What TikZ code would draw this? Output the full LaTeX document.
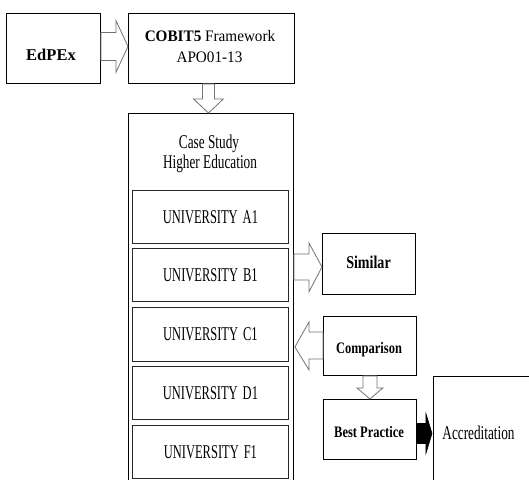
\documentclass[tikz,border=0pt]{standalone}
\usepackage{fontspec}
\setmainfont{Liberation Serif}
\newfontfamily\fN[FakeStretch=0.95]{Liberation Serif}
\newfontfamily\fC[FakeStretch=0.68]{Liberation Serif}
\newfontfamily\fU[FakeStretch=0.64]{Liberation Serif}
\newfontfamily\fB[FakeStretch=0.78]{Liberation Serif}
\usetikzlibrary{calc}
\begin{document}
\begin{tikzpicture}[x=1pt,y=-1pt,
  box/.style={draw=black, line width=0.9pt, fill=white, inner sep=0pt, anchor=north west},
  unibox/.style={box, draw=black!85, minimum width=156pt, minimum height=53pt,
    font=\fU\fontsize{19.5}{22}\selectfont},
  lbl/.style={anchor=base, inner sep=0pt},
  blockarrow/.style={draw=black!55, line width=0.8pt, fill=white, line join=miter},
  solidarrow/.style={draw=black, line width=0.6pt, fill=black, line join=miter}]
\useasboundingbox (0,0) rectangle (529,479);
\fill[white] (0,0) rectangle (529,479);
% boxes
\node[box, minimum width=94pt, minimum height=70pt] (edpex) at (6,13) {};
\node[box, minimum width=166pt, minimum height=70pt] (cobit) at (128,13) {};
\node[box, minimum width=165pt, minimum height=380pt] (case) at (128,113) {};
\node[unibox] (ua) at (132,190) {UNIVERSITY\hspace{5pt}A1};
\node[unibox] (ub) at (132,248) {UNIVERSITY\hspace{5pt}B1};
\node[unibox, minimum height=54pt] (uc) at (132,307) {UNIVERSITY\hspace{5pt}C1};
\node[unibox] (ud) at (132,366) {UNIVERSITY\hspace{5pt}D1};
\node[unibox] (uf) at (132,425) {UNIVERSITY\hspace{5pt}F1};
\node[box, minimum width=93pt, minimum height=61pt] (similar) at (322,233) {};
\node[box, minimum width=93pt, minimum height=59pt] (comp) at (323,316) {};
\node[box, minimum width=93pt, minimum height=60pt] (best) at (323,399) {};
\coordinate (accbl) at (433,485);
\coordinate (acctl) at (433,376);
\coordinate (acctr) at (535,376);
\draw[line width=0.9pt] (accbl) -- (acctl) -- (acctr);
% texts
\node[lbl, font=\bfseries\fontsize{16.5}{19}\selectfont] (edpext) at (51,60) {EdPEx};
\node[lbl, font=\fN\fontsize{16}{19}\selectfont] (cobitt1) at (210,41) {\textbf{COBIT5} Framework};
\node[lbl, font=\fN\fontsize{16}{19}\selectfont] (cobitt2) at (209.5,62) {APO01-13};
\node[lbl, font=\fC\fontsize{19.5}{22}\selectfont] (caset1) at (209,148) {Case Study};
\node[lbl, font=\fC\fontsize{19.5}{22}\selectfont] (caset2) at (210,168) {Higher Education};
\node[lbl, font=\fB\bfseries\fontsize{18}{21}\selectfont] (similart) at (368.5,268) {Similar};
\node[lbl, font=\fB\bfseries\fontsize{16}{19}\selectfont] (compt) at (369,353) {Comparison};
\node[lbl, font=\fB\bfseries\fontsize{16}{19}\selectfont] (bestt) at (369,437) {Best Practice};
\node[lbl, font=\fC\fontsize{19.5}{22}\selectfont] (acct) at (478.5,439) {Accreditation};
% block arrows
\draw[blockarrow] ($(edpex.east)+(0,-16)$) -- ++(15,0) -- ++(0,-12) -- ($(cobit.west)+(0,-2)$)
   -- ($(edpex.east)+(15,24)$) -- ++(0,-12) -- ($(edpex.east)+(0,12)$) -- cycle;
\draw[blockarrow] ($(cobit.south)+(-9,0)$) -- ++(0,15) -- ++(-9,0) -- ($(case.north)+(-2.5,0)$)
   -- ($(cobit.south)+(12,15)$) -- ++(-9,0) -- ($(cobit.south)+(3,0)$) -- cycle;
\draw[blockarrow] ($(case.east |- similar.west)+(0,-10)$) -- ++(15,0) -- ++(0,-11) -- ($(similar.west)+(0,3)$)
   -- ($(case.east |- similar.west)+(15,28)$) -- ++(0,-12) -- ($(case.east |- similar.west)+(0,16)$) -- cycle;
\draw[blockarrow] ($(comp.west)+(0,-14)$) -- ++(-14,0) -- ++(0,-10) -- ($(case.east |- comp.west)+(1,1)$)
   -- ($(comp.west)+(-14,24)$) -- ++(0,-11) -- ($(comp.west)+(0,13)$) -- cycle;
\draw[blockarrow] ($(comp.south)+(-7,0)$) -- ++(0,12) -- ++(-6,0) -- (best.north)
   -- ($(comp.south)+(13,12)$) -- ++(-6,0) -- ($(comp.south)+(7,0)$) -- cycle;
\draw[solidarrow] ($(best.east)+(0,-6)$) -- ++(9,0) -- ++(0,-10) -- ($(acctl |- best.east)+(-1,4)$)
   -- ($(best.east)+(9,24)$) -- ++(0,-10) -- ($(best.east)+(0,14)$) -- cycle;
\end{tikzpicture}
\end{document}
